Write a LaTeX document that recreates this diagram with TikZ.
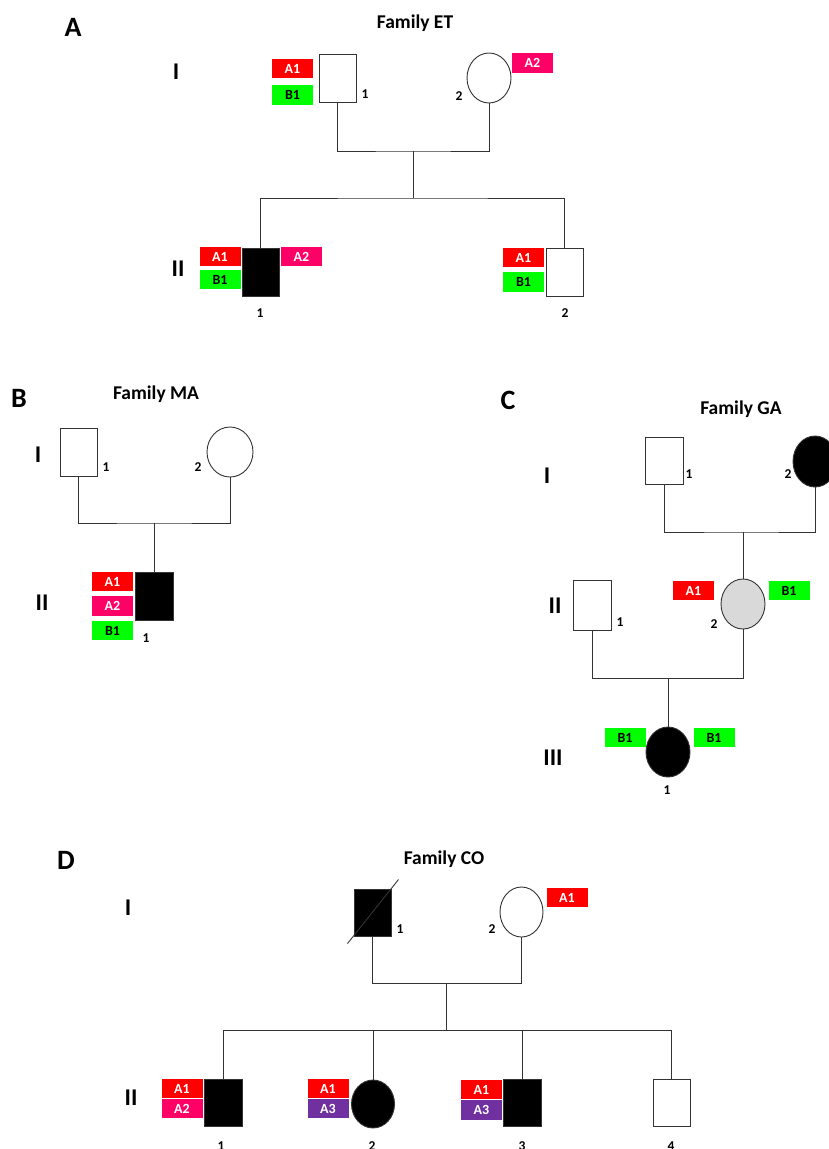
\documentclass[tikz,border=0pt]{standalone}
\usepackage{fontspec}
\setmainfont{Carlito}
\usetikzlibrary{shapes.geometric}
\definecolor{cAone}{HTML}{FF0000}
\definecolor{cAtwo}{HTML}{FF0066}
\definecolor{cAthree}{HTML}{7030A0}
\definecolor{cBone}{HTML}{00FF00}
\definecolor{cgrey}{HTML}{D9D9D9}
\definecolor{lc}{HTML}{333333}
\tikzset{
  male/.style={draw=lc, line width=0.9pt, rectangle, inner sep=0pt, minimum width=37pt, minimum height=48pt},
  female/.style={draw=lc, line width=0.9pt, ellipse, inner sep=0pt, minimum width=44pt, minimum height=50pt},
  aff/.style={fill=black},
  tag/.style={inner sep=0pt, minimum width=41pt, minimum height=19.5pt, font=\fontsize{14}{14}\selectfont\bfseries, text=white},
  tA1/.style={tag, fill=cAone},
  tA2/.style={tag, fill=cAtwo},
  tA3/.style={tag, fill=cAthree},
  tB1/.style={tag, fill=cBone, text=black},
  num/.style={font=\fontsize{13.5}{13.5}\selectfont\bfseries, anchor=base, inner sep=0pt},
  gen/.style={font=\fontsize{24}{24}\selectfont\bfseries, anchor=base, inner sep=0pt},
  panel/.style={font=\fontsize{28}{28}\selectfont\bfseries, anchor=base, inner sep=0pt},
  fam/.style={font=\fontsize{19.5}{20}\selectfont\bfseries, anchor=base, inner sep=0pt},
  link/.style={draw=lc, line width=0.9pt}
}
\begin{document}
\begin{tikzpicture}[x=1pt,y=-1pt]
\clip (0,0) rectangle (829,1149);
\fill[white] (0,0) rectangle (829,1149);

% ===== Panel A =====
\node[panel] (pA) at (73,36) {A};
\node[fam] (fA) at (415,28) {Family ET};
\node[gen] (gAI) at (176,79) {I};
\node[gen] (gAII) at (178,276) {II};
\node[male] (aI1) at (337.5,78) {};
\node[female] (aI2) at (489,78) {};
\node[tA1] (aI1a) at (292.5,68.5) {A1};
\node[tB1] (aI1b) at (292.5,95) {B1};
\node[tA2] (aI2a) at (532.5,63) {A2};
\node[num] (naI1) at (365,98) {1};
\node[num] (naI2) at (459,100) {2};
\coordinate (aM) at (413,151);
\coordinate (aS) at (413,198);
\draw[link] (aI1.south) |- (aM) -| (aI2.south);
\draw[link] (aM) -- (aS);
\node[male,aff] (aII1) at (260.5,272) {};
\node[male] (aII2) at (564.5,272) {};
\draw[link] (aII1.north) |- (aS) -| (aII2.north);
\node[tA1] (aII1a) at (220,256.5) {A1};
\node[tB1] (aII1b) at (220,279.5) {B1};
\node[tA2] (aII1c) at (301.5,256.5) {A2};
\node[tA1] (aII2a) at (523.5,257.5) {A1};
\node[tB1] (aII2b) at (523.5,282) {B1};
\node[num] (naII1) at (260,317) {1};
\node[num] (naII2) at (565,317) {2};

% ===== Panel B =====
\node[panel] (pB) at (19,407) {B};
\node[fam] (fB) at (156,399) {Family MA};
\node[gen] (gBI) at (38,462) {I};
\node[gen] (gBII) at (42,610) {II};
\node[male] (bI1) at (78.5,452) {};
\node[female, minimum width=46pt] (bI2) at (230,452) {};
\node[num] (nbI1) at (106,471) {1};
\node[num] (nbI2) at (198,471) {2};
\coordinate (bM) at (154,523);
\draw[link] (bI1.south) |- (bM) -| (bI2.south);
\node[male,aff, minimum width=38pt] (bII1) at (154,596) {};
\draw[link] (bM) -- (bII1.north);
\node[tA1] (bII1a) at (112.5,581.5) {A1};
\node[tA2] (bII1b) at (112.5,606) {A2};
\node[tB1] (bII1c) at (112.5,630.5) {B1};
\node[num] (nbII1) at (146,642) {1};

% ===== Panel C =====
\node[panel] (pC) at (508,409) {C};
\node[fam] (fC) at (741,414) {Family GA};
\node[gen] (gCI) at (547,483) {I};
\node[gen] (gCII) at (555,613) {II};
\node[gen] (gCIII) at (553,765) {III};
\node[male, minimum width=38pt, minimum height=47pt] (cI1) at (664,460.5) {};
\node[female,aff, minimum height=51pt] (cI2) at (815,461.5) {};
\node[num] (ncI1) at (689,478) {1};
\node[num] (ncI2) at (788,478) {2};
\coordinate (cM) at (743,532);
\draw[link] (cI1.south) |- (cM) -| (cI2.south);
\node[male, minimum width=38pt, minimum height=50pt] (cII1) at (592,605.5) {};
\node[female, fill=cgrey] (cII2) at (743,604) {};
\draw[link] (cM) -- (cII2.north);
\node[tA1] (cII2a) at (693.5,590.5) {A1};
\node[tB1] (cII2b) at (789,590.5) {B1};
\node[num] (ncII1) at (620,626) {1};
\node[num] (ncII2) at (714,628) {2};
\coordinate (cM2) at (668,678);
\draw[link] (cII1.south) |- (cM2) -| (cII2.south);
\node[female,aff] (cIII1) at (668,752) {};
\draw[link] (cM2) -- (cIII1.north);
\node[tB1] (cIII1a) at (625,737.5) {B1};
\node[tB1] (cIII1b) at (714,737.5) {B1};
\node[num] (ncIII1) at (667,794) {1};

% ===== Panel D =====
\node[panel] (pD) at (66,869) {D};
\node[fam] (fD) at (444,864) {Family CO};
\node[gen] (gDI) at (128,915) {I};
\node[gen] (gDII) at (131,1105) {II};
\node[male,aff, minimum height=47pt] (dI1) at (372.5,912.5) {};
\draw[link] (dI1.center) ++(-25,31) -- ++(51,-64);
\node[female, minimum width=43pt] (dI2) at (521.5,912) {};
\node[tA1] (dI2a) at (567,897.5) {A1};
\node[num] (ndI1) at (400,933) {1};
\node[num] (ndI2) at (492,933) {2};
\coordinate (dM) at (446,983);
\coordinate (dS) at (446,1030);
\draw[link] (dI1.south) |- (dM) -| (dI2.south);
\draw[link] (dM) -- (dS);
\node[male,aff, minimum width=38pt, minimum height=47pt] (dII1) at (223,1102.5) {};
\node[female,aff, minimum width=43pt, minimum height=48pt] (dII2) at (373,1104) {};
\node[male,aff, minimum width=38pt, minimum height=47pt] (dII3) at (522,1102.5) {};
\node[male, minimum height=47pt] (dII4) at (671.5,1102.5) {};
\draw[link] (dII1.north) |- (dS) -| (dII4.north);
\draw[link] (dS) -| (dII2.north);
\draw[link] (dS) -| (dII3.north);
\node[tA1] (dII1a) at (182,1088.5) {A1};
\node[tA2] (dII1b) at (182,1108.5) {A2};
\node[tA1] (dII2a) at (328,1088.5) {A1};
\node[tA3] (dII2b) at (328,1108.5) {A3};
\node[tA1] (dII3a) at (481.5,1089.5) {A1};
\node[tA3] (dII3b) at (481.5,1110) {A3};
\node[num] (ndII1) at (221,1150) {1};
\node[num] (ndII2) at (372,1150) {2};
\node[num] (ndII3) at (522,1150) {3};
\node[num] (ndII4) at (671,1150) {4};
\end{tikzpicture}
\end{document}
